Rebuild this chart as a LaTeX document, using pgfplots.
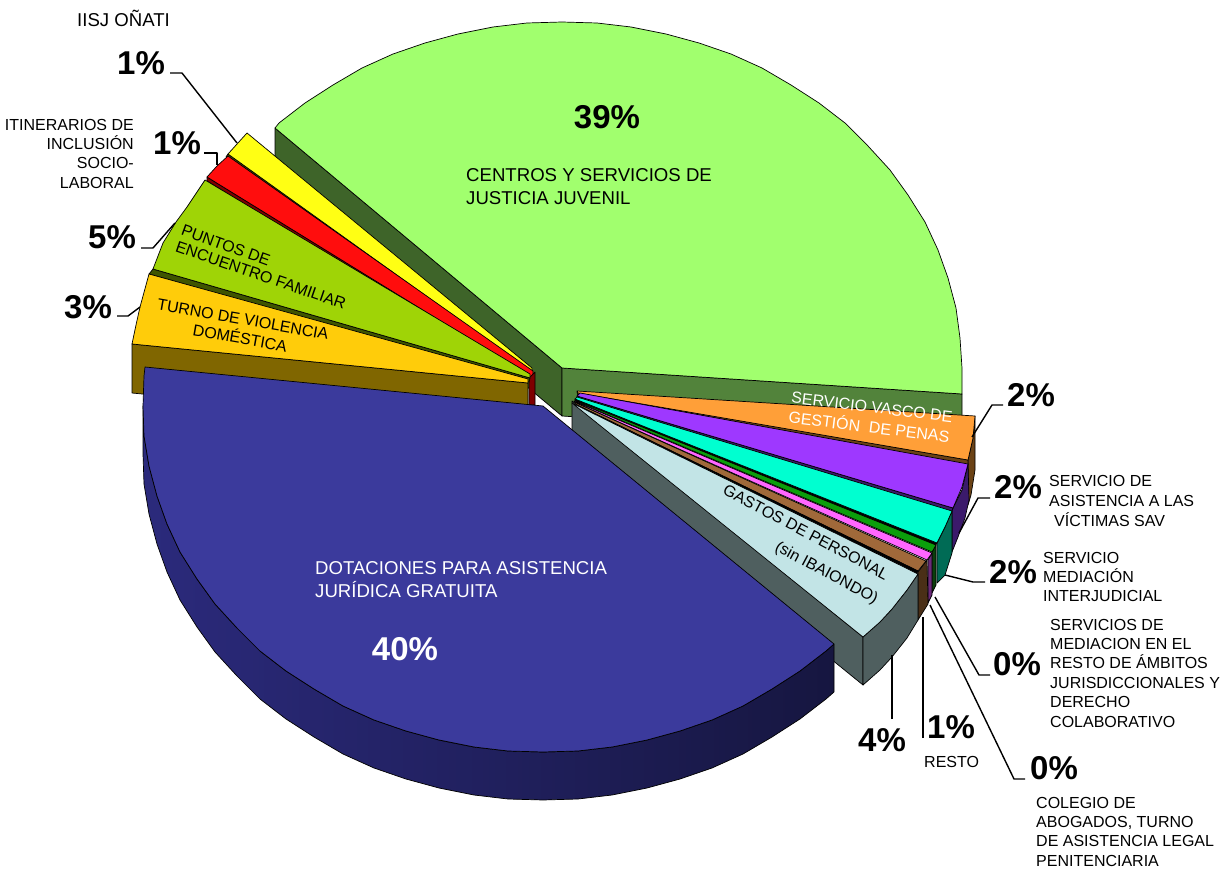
\documentclass[border=0pt]{standalone}
\usepackage{fontspec}
\setmainfont{Liberation Sans}
\usepackage{pgfplots}
\pgfplotsset{compat=1.18}
\definecolor{lgreen}{HTML}{A1FF6E}\definecolor{lgreenL}{HTML}{3E6429}\definecolor{lgreenR}{HTML}{52833B}
\definecolor{yel}{HTML}{FFFF14}\definecolor{yelS}{HTML}{4F4F00}
\definecolor{rd}{HTML}{FF0D0D}\definecolor{rdS}{HTML}{7F0000}
\definecolor{pun}{HTML}{9FD406}\definecolor{punS}{HTML}{3F5500}
\definecolor{tur}{HTML}{FFCC0A}\definecolor{turS}{HTML}{806600}
\definecolor{blu}{HTML}{3B3A9C}\definecolor{bluA}{HTML}{2B2A7C}\definecolor{bluB}{HTML}{1C1B58}\definecolor{bluC}{HTML}{161640}
\definecolor{ora}{HTML}{FF9F38}\definecolor{oraS}{HTML}{6B4215}
\definecolor{pur}{HTML}{9E38FF}\definecolor{purS}{HTML}{3B1A6B}
\definecolor{tq}{HTML}{00FFD0}\definecolor{tqS}{HTML}{006B55}
\definecolor{grn}{HTML}{0B9E0B}\definecolor{grnS}{HTML}{0B3F0B}
\definecolor{pnk}{HTML}{FF66FF}\definecolor{pnkS}{HTML}{6B2A7A}
\definecolor{brn}{HTML}{A0693A}\definecolor{brnS}{HTML}{4A2F17}
\definecolor{lbl}{HTML}{C2E4E6}\definecolor{lblS}{HTML}{4F5F5F}
\tikzset{
  piece/.style={draw=black,line width=.7pt,line join=round,mark=none},
  lead/.style={draw=black,line width=1.4pt,line join=round,mark=none},
  tx/.style={inner sep=0pt,text depth=0pt,text=black},
  sm/.style={tx,font=\fontsize{16}{16}\selectfont,text height=11.5pt},
  md/.style={tx,font=\fontsize{18.6}{18.6}\selectfont,text height=13.3pt},
  bg/.style={tx,font=\fontsize{33}{33}\selectfont\bfseries,text height=23.6pt}}
\begin{document}
\begin{tikzpicture}
\begin{axis}[scale only axis,width=1221pt,height=869pt,xmin=0,xmax=1221,ymin=0,ymax=869,y dir=reverse,hide axis,clip=false]
\path[use as bounding box] (axis cs:0,0) rectangle (axis cs:1221,869);
% --- centros y servicios de justicia juvenil (39%)
\addplot[piece,fill=lgreenL] coordinates {(275,128)(562,368)(562,416)(275,176)} -- cycle;
\addplot[piece,fill=lgreenR] coordinates {(562,368)(962,394)(962,442)(562,416)} -- cycle;
\addplot[piece,fill=lgreen] coordinates {(275,128)(279,123)(305,103)(333,85)(362,68)(393,54)(425,43)(458,34)(493,27)(527,23)(562,22)(597,23)(631,27)(666,34)(699,43)(731,54)(762,68)(791,85)(819,103)(845,123)(868,146)(890,170)(908,195)(925,222)(938,250)(948,278)(956,308)(960,338)(962,368)(962,394)(562,368)} -- cycle;
% --- IISJ
\addplot[piece,fill=yelS] coordinates {(228,154)(226,157)(532,375)(532,372)} -- cycle;
\addplot[piece,fill=yel] coordinates {(247,133)(228,154)(532,372)(532,368)} -- cycle;
% --- itinerarios
\addplot[piece,fill=rdS] coordinates {(207,177)(207,181)(533,382)(533,378)} -- cycle;
\addplot[piece,fill=rd] coordinates {(228,156)(217,166)(207,177)(533,378)(533,371)} -- cycle;
\addplot[piece,fill=rdS] coordinates {(529,378)(535,372)(535,405)(529,405)} -- cycle;
% --- puntos de encuentro
\addplot[piece,fill=punS] coordinates {(153,269)(530,378)(529,382)(149,274)} -- cycle;
\addplot[piece,fill=pun] coordinates {(205,180)(187,207)(176,222)(163,243)(153,269)(530,378)(530,374)} -- cycle;
% --- turno de violencia
\addplot[piece,fill=turS] coordinates {(132,344)(528,383)(528,432)(132,393)} -- cycle;
\addplot[piece,fill=tur] coordinates {(149,274)(140,307)(136,325)(132,344)(528,383)(528,379)} -- cycle;
% --- vasco gestion penas
\addplot[piece,fill=oraS] coordinates {(975,416)(973,438)(968,460)(968,505)(971,495)(975,470)} -- cycle;
\addplot[piece,fill=oraS] coordinates {(968,460)(968,465)(578,396)(577,392)} -- cycle;
\addplot[piece,fill=ora] coordinates {(577,391)(975,416)(973,438)(968,460)(578,393)} -- cycle;
% --- SAV
\addplot[piece,fill=purS] coordinates {(968,464)(962,490)(952,510)(952,552)(958,537)(965,518)(969,500)} -- cycle;
\addplot[piece,fill=purS] coordinates {(953,508)(951,513)(577,398)(577,396)} -- cycle;
\addplot[piece,fill=pur] coordinates {(580,393)(968,464)(962,487)(953,508)(577,396)} -- cycle;
% --- mediacion interjudicial
\addplot[piece,fill=tqS] coordinates {(952,511)(945,527)(937,543)(937,583)(945,575)(952,553)} -- cycle;
\addplot[piece,fill=black] coordinates {(937,543)(935,546)(575,400)(575,399)} -- cycle;
\addplot[piece,fill=tq] coordinates {(577,397)(952,511)(945,527)(937,543)(575,399)} -- cycle;
% --- resto de ambitos
\addplot[piece,fill=grnS] coordinates {(936,545)(932,552)(932,593)(936,585)} -- cycle;
\addplot[piece,fill=grn] coordinates {(575,400)(936,545)(932,552)(575,401)} -- cycle;
% --- colegio de abogados
\addplot[piece,fill=pnkS] coordinates {(932,553)(928,560)(928,603)(932,595)} -- cycle;
\addplot[piece,fill=pnk] coordinates {(574,401)(932,553)(927,560)(574,402)} -- cycle;
% --- resto
\addplot[piece,fill=brnS] coordinates {(927,560)(918,572)(918,620)(928,604)} -- cycle;
\addplot[piece,fill=brn] coordinates {(574,402)(926,561)(918,571)(573,403)} -- cycle;
\addplot[piece,fill=black] coordinates {(918,571)(916,575)(572,404)(573,403)} -- cycle;
% --- gastos de personal
\addplot[piece,fill=lblS] coordinates {(572,401)(863,637)(863,685)(572,449)} -- cycle;
\addplot[piece,fill=lblS] coordinates {(918,574)(907,590)(892,609)(880,622)(863,637)(863,685)(880,670)(892,657)(907,638)(918,620)} -- cycle;
\addplot[piece,fill=lbl] coordinates {(572,403)(918,574)(907,590)(892,609)(880,622)(863,637)} -- cycle;
% --- dotaciones asistencia juridica
\addplot[piece,left color=bluA,middle color=bluB,right color=bluC] coordinates {(143,406)(144,436)(149,466)(157,496)(167,524)(180,552)(197,579)(215,604)(237,628)(260,651)(286,671)(314,689)(343,706)(374,720)(406,731)(439,740)(474,747)(508,751)(543,752)(578,751)(612,747)(647,740)(680,731)(712,720)(743,706)(772,689)(800,671)(826,651)(834,644)(834,692)(826,699)(800,719)(772,737)(743,754)(712,768)(680,779)(647,788)(612,795)(578,799)(543,800)(508,799)(474,795)(439,788)(406,779)(374,768)(343,754)(314,737)(286,719)(260,699)(237,676)(215,652)(197,627)(180,600)(167,572)(157,544)(149,514)(144,484)(143,454)} -- cycle;
\addplot[piece,fill=blu] coordinates {(145,367)(144,376)(143,406)(144,436)(149,466)(157,496)(167,524)(180,552)(197,579)(215,604)(237,628)(260,651)(286,671)(314,689)(343,706)(374,720)(406,731)(439,740)(474,747)(508,751)(543,752)(578,751)(612,747)(647,740)(680,731)(712,720)(743,706)(772,689)(800,671)(826,651)(834,644)(543,406)} -- cycle;
% --- leader lines
\addplot[lead] coordinates {(170,73)(182,73)(237,143)};
\addplot[lead] coordinates {(204,153)(217,153)(217,165)};
\addplot[lead] coordinates {(141,248)(153,248)(175,223)};
\addplot[lead] coordinates {(117,316)(128,316)(140,307)};
\addplot[lead] coordinates {(1003,405)(992,405)(972,437)};
\addplot[lead] coordinates {(990,498)(978,498)(959,533)};
\addplot[lead] coordinates {(985,582)(973,582)(945,575)};
\addplot[lead] coordinates {(990,675)(979,675)(935,597)};
\addplot[lead] coordinates {(1025,779)(1014,779)(930,605)};
\addplot[lead] coordinates {(923,738)(923,617)};
\addplot[lead] coordinates {(892,719)(892,655)};
% --- percentages
\node[bg] at (axis cs:607,117) {39\%};
\node[bg,text=white] at (axis cs:405,649) {40\%};
\node[bg] at (axis cs:141,63) {1\%};
\node[bg] at (axis cs:177,143) {1\%};
\node[bg] at (axis cs:112,237) {5\%};
\node[bg] at (axis cs:88,307) {3\%};
\node[bg] at (axis cs:1031,395) {2\%};
\node[bg] at (axis cs:1018,487) {2\%};
\node[bg] at (axis cs:1013,572) {2\%};
\node[bg] at (axis cs:1017,664) {0\%};
\node[bg] at (axis cs:1054,768) {0\%};
\node[bg] at (axis cs:951,727) {1\%};
\node[bg] at (axis cs:882,740) {4\%};
% --- labels
\node[md,anchor=west] at (axis cs:77,20) {IISJ OÑATI};
\node[md,anchor=west] at (axis cs:466,175) {CENTROS Y SERVICIOS DE};
\node[md,anchor=west] at (axis cs:466,198) {JUSTICIA JUVENIL};
\node[md,anchor=west,text=white] at (axis cs:315,568) {DOTACIONES PARA ASISTENCIA};
\node[md,anchor=west,text=white] at (axis cs:315,591) {JURÍDICA GRATUITA};
\node[sm,text=white,rotate=-7] at (axis cs:872,407) {SERVICIO VASCO DE};
\node[sm,text=white,rotate=-7] at (axis cs:869,427) {GESTIÓN\ \ DE PENAS};
\node[sm,rotate=-28] at (axis cs:806,532) {GASTOS DE PERSONAL};
\node[sm,rotate=-28] at (axis cs:827,572) {(sin IBAIONDO)};
\node[sm,rotate=-20] at (axis cs:226,245) {PUNTOS DE};
\node[sm,rotate=-19] at (axis cs:261,275) {ENCUENTRO FAMILIAR};
\node[sm,rotate=-10] at (axis cs:243,319) {TURNO DE VIOLENCIA};
\node[sm,rotate=-10] at (axis cs:240,338) {DOMÉSTICA};
\node[sm,anchor=east] at (axis cs:134,125) {ITINERARIOS DE};
\node[sm,anchor=east] at (axis cs:134,144) {INCLUSIÓN};
\node[sm,anchor=east] at (axis cs:134,163) {SOCIO-};
\node[sm,anchor=east] at (axis cs:134,183) {LABORAL};
\node[sm,anchor=west] at (axis cs:1049,481) {SERVICIO DE};
\node[sm,anchor=west] at (axis cs:1049,501) {ASISTENCIA A LAS};
\node[sm,anchor=west] at (axis cs:1054,521) {VÍCTIMAS SAV};
\node[sm,anchor=west] at (axis cs:1043,558) {SERVICIO};
\node[sm,anchor=west] at (axis cs:1043,577) {MEDIACIÓN};
\node[sm,anchor=west] at (axis cs:1043,596) {INTERJUDICIAL};
\node[sm,anchor=west] at (axis cs:1050,625) {SERVICIOS DE};
\node[sm,anchor=west] at (axis cs:1050,644) {MEDIACION EN EL};
\node[sm,anchor=west] at (axis cs:1050,663) {RESTO DE ÁMBITOS};
\node[sm,anchor=west] at (axis cs:1050,683) {JURISDICCIONALES Y};
\node[sm,anchor=west] at (axis cs:1050,702) {DERECHO};
\node[sm,anchor=west] at (axis cs:1050,722) {COLABORATIVO};
\node[sm,anchor=west] at (axis cs:924,762) {RESTO};
\node[sm,anchor=west] at (axis cs:1036,803) {COLEGIO DE};
\node[sm,anchor=west] at (axis cs:1036,822) {ABOGADOS, TURNO};
\node[sm,anchor=west] at (axis cs:1036,841) {DE ASISTENCIA LEGAL};
\node[sm,anchor=west] at (axis cs:1036,861) {PENITENCIARIA};
\end{axis}
\end{tikzpicture}
\end{document}
